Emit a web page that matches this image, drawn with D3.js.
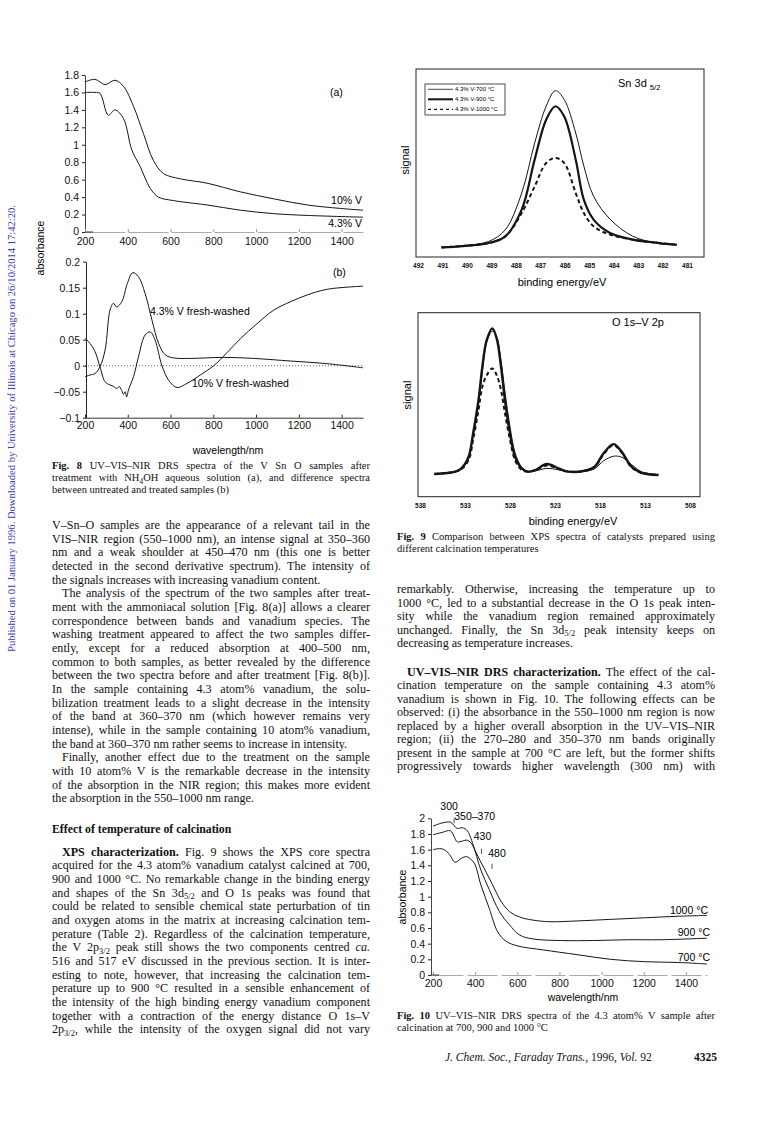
<!DOCTYPE html>
<html>
<head>
<meta charset="utf-8">
<script src="https://cdn.jsdelivr.net/npm/d3@7"></script>
<style>
body { margin: 0; background: #fff; }
svg { display: block; }
.serif { font-family: "Liberation Serif", "Times New Roman", serif; }
.sans { font-family: "Liberation Sans", Arial, sans-serif; }
</style>
</head>
<body>
<svg id="page" width="773" height="1131"></svg>
<script>
// ---- Fig. 8(a): absorbance after NH4OH treatment ----
var wl8aTen  = [200, 247, 294, 340, 380, 427, 473, 520, 567, 645, 770, 927, 1083, 1239, 1395, 1500];
var abs8aTen = [1.72, 1.75, 1.69, 1.74, 1.67, 1.44, 1.13, 0.82, 0.67, 0.61, 0.56, 0.46, 0.38, 0.31, 0.27, 0.25];
var wl8aLow  = [200, 247, 270, 309, 340, 380, 419, 458, 505, 544, 614, 770, 927, 1083, 1239, 1500];
var abs8aLow = [1.60, 1.60, 1.59, 1.34, 1.40, 1.30, 0.94, 0.75, 0.50, 0.40, 0.36, 0.31, 0.25, 0.21, 0.19, 0.17];

// ---- Fig. 8(b): difference spectra (fresh - washed) ----
var wl8bLow = [200, 223, 247, 270, 294, 317, 333, 348, 372, 398, 423, 450, 481, 513, 544, 575, 614, 692, 848, 989, 1161, 1317, 1500];
var d8bLow  = [-0.021, -0.018, -0.015, -0.002, 0.030, 0.107, 0.120, 0.113, 0.123, 0.158, 0.179, 0.171, 0.139, 0.088, 0.043, 0.021, 0.015, 0.014, 0.016, 0.014, 0.009, 0.0045, -0.004];
var wl8bTen = [200, 223, 247, 270, 294, 317, 335, 348, 360, 372, 380, 388, 395, 403, 427, 450, 481, 505, 528, 559, 591, 630, 677, 739, 802, 864, 927, 1005, 1083, 1161, 1239, 1333, 1500];
var d8bTen  = [0.053, 0.043, 0.027, -0.002, -0.031, -0.037, -0.040, -0.044, -0.040, -0.048, -0.055, -0.050, -0.060, -0.047, -0.021, 0.017, 0.059, 0.065, 0.049, 0.001, -0.028, -0.042, -0.034, -0.018, 0.000, 0.025, 0.052, 0.081, 0.107, 0.123, 0.136, 0.147, 0.153];

var fig8Ticks  = [200, 400, 600, 800, 1000, 1200, 1400];
var fig8aYTicks = [0, 0.2, 0.4, 0.6, 0.8, 1, 1.2, 1.4, 1.6, 1.8];
var fig8bYTicks = [-0.1, -0.05, 0, 0.05, 0.1, 0.15, 0.2];

// ---- Fig. 9: XPS spectra ----
var evSn   = [491.04, 490.17, 489.10, 488.43, 487.76, 487.23, 486.76, 486.38, 486.02, 485.55, 485.22, 484.82, 484.15, 483.22, 482.14, 481.41];
var sn700  = [6.1, 7.0, 9.3, 15.4, 34.7, 61.0, 80.4, 88.6, 83.9, 66.3, 49.0, 33.0, 21.0, 12.0, 8.1, 7.5];
var sn900  = [6.1, 6.8, 8.4, 11.9, 26.0, 52.3, 73.3, 80.4, 75.0, 52.3, 31.2, 20.7, 13.7, 10.2, 8.4, 7.5];
var sn1000 = [6.1, 6.8, 8.4, 11.9, 24.2, 38.2, 50.5, 53.2, 50.5, 34.7, 24.2, 17.2, 12.8, 10.2, 8.4, 7.5];
var snTicks = [492, 491, 490, 489, 488, 487, 486, 485, 484, 483, 482, 481];

var evO   = [536.4, 534.1, 533.4, 532.6, 532.1, 531.5, 531.07, 530.59, 529.96, 529.48, 529.0, 528.56, 528.0, 527.44, 526.7, 526.0, 525.2, 523.9, 522.6, 521.5, 519.7, 518.6, 517.6, 516.5, 515.6, 514.5, 513.4, 511.5];
var o700  = [12.3, 13.4, 15.0, 20.5, 33.0, 50.0, 68.0, 84.0, 90.0, 87.0, 74.0, 57.0, 38.0, 24.0, 16.0, 13.8, 14.0, 15.4, 14.6, 13.5, 13.8, 15.2, 19.5, 22.0, 21.5, 17.5, 13.6, 12.0];
var o900  = [12.3, 13.6, 15.4, 21.7, 34.4, 52.5, 70.7, 85.1, 91.5, 86.0, 70.7, 52.5, 34.4, 21.7, 15.4, 13.6, 14.5, 17.8, 15.4, 13.6, 14.1, 16.3, 23.6, 28.6, 24.5, 16.3, 13.0, 11.8];
var o1000 = [12.3, 13.6, 15.0, 19.9, 30.8, 47.0, 59.8, 66.0, 69.7, 66.0, 58.0, 45.3, 30.8, 19.9, 14.5, 13.6, 14.3, 17.0, 15.0, 13.6, 14.1, 16.0, 23.0, 28.0, 24.0, 16.0, 13.0, 11.8];
var oTicks = [538, 533, 528, 523, 518, 513, 508];

var legend9 = ['4.3% V-700 °C', '4.3% V-900 °C', '4.3% V-1000 °C'];

// ---- Fig. 10: calcination temperature ----
var wl1000 = [200, 243, 283, 315, 339, 363, 403, 443, 483, 523, 563, 611, 675, 755, 883, 1043, 1203, 1363, 1500];
var a1000  = [1.90, 1.94, 1.95, 1.87, 1.88, 1.84, 1.57, 1.36, 1.15, 0.94, 0.81, 0.74, 0.70, 0.68, 0.69, 0.71, 0.73, 0.75, 0.76];
var wl900  = [200, 243, 283, 315, 339, 363, 387, 427, 467, 515, 563, 611, 675, 803, 963, 1123, 1283, 1500];
var a900   = [1.79, 1.82, 1.84, 1.70, 1.71, 1.72, 1.66, 1.34, 1.09, 0.81, 0.64, 0.51, 0.46, 0.44, 0.44, 0.45, 0.45, 0.47];
var wl700  = [200, 243, 275, 305, 335, 360, 395, 427, 467, 507, 547, 603, 723, 883, 1043, 1203, 1363, 1500];
var a700   = [1.60, 1.61, 1.55, 1.44, 1.49, 1.51, 1.43, 1.15, 0.85, 0.55, 0.43, 0.37, 0.32, 0.26, 0.20, 0.17, 0.16, 0.14];
var fig10YTicks = [0, 0.2, 0.4, 0.6, 0.8, 1, 1.2, 1.4, 1.6, 1.8, 2];
var bandNm     = [300, 360, 430, 480];
var bandLabels = ['300', '350–370', '430', '480'];
var bandAbs    = [2.0, 1.97, 1.61, 1.42];

// ---- page text ----
var leftText = [
	'V–Sn–O samples are the appearance of a relevant tail in the',
	'VIS–NIR region (550–1000 nm), an intense signal at 350–360',
	'nm and a weak shoulder at 450–470 nm (this one is better',
	'detected in the second derivative spectrum). The intensity of',
	'the signals increases with increasing vanadium content.|',
	'>The analysis of the spectrum of the two samples after treat-',
	'ment with the ammoniacal solution [Fig. 8(a)] allows a clearer',
	'correspondence between bands and vanadium species. The',
	'washing treatment appeared to affect the two samples differ-',
	'ently, except for a reduced absorption at 400–500 nm,',
	'common to both samples, as better revealed by the difference',
	'between the two spectra before and after treatment [Fig. 8(b)].',
	'In the sample containing 4.3 atom% vanadium, the solu-',
	'bilization treatment leads to a slight decrease in the intensity',
	'of the band at 360–370 nm (which however remains very',
	'intense), while in the sample containing 10 atom% vanadium,',
	'the band at 360–370 nm rather seems to increase in intensity.|',
	'>Finally, another effect due to the treatment on the sample',
	'with 10 atom% V is the remarkable decrease in the intensity',
	'of the absorption in the NIR region; this makes more evident',
	'the absorption in the 550–1000 nm range.|'
];
var leftText2 = [
	'>**XPS characterization.** Fig. 9 shows the XPS core spectra',
	'acquired for the 4.3 atom% vanadium catalyst calcined at 700,',
	'900 and 1000 °C. No remarkable change in the binding energy',
	'and shapes of the Sn 3d^5/2^ and O 1s peaks was found that',
	'could be related to sensible chemical state perturbation of tin',
	'and oxygen atoms in the matrix at increasing calcination tem-',
	'perature (Table 2). Regardless of the calcination temperature,',
	'the V 2p^3/2^ peak still shows the two components centred _ca._',
	'516 and 517 eV discussed in the previous section. It is inter-',
	'esting to note, however, that increasing the calcination tem-',
	'perature up to 900 °C resulted in a sensible enhancement of',
	'the intensity of the high binding energy vanadium component',
	'together with a contraction of the energy distance O 1s–V',
	'2p^3/2^, while the intensity of the oxygen signal did not vary'
];
var rightText = [
	'remarkably. Otherwise, increasing the temperature up to',
	'1000 °C, led to a substantial decrease in the O 1s peak inten-',
	'sity while the vanadium region remained approximately',
	'unchanged. Finally, the Sn 3d^5/2^ peak intensity keeps on',
	'decreasing as temperature increases.|'
];
var rightText2 = [
	'>**UV–VIS–NIR DRS characterization.** The effect of the cal-',
	'cination temperature on the sample containing 4.3 atom%',
	'vanadium is shown in Fig. 10. The following effects can be',
	'observed: (i) the absorbance in the 550–1000 nm region is now',
	'replaced by a higher overall absorption in the UV–VIS–NIR',
	'region; (ii) the 270–280 and 350–370 nm bands originally',
	'present in the sample at 700 °C are left, but the former shifts',
	'progressively towards higher wavelength (300 nm) with'
];
var caption8 = [
	'**Fig. 8** UV–VIS–NIR DRS spectra of the V Sn O samples after',
	'treatment with NH^4^OH aqueous solution (a), and difference spectra',
	'between untreated and treated samples (b)|'
];
var caption9 = [
	'**Fig. 9** Comparison between XPS spectra of catalysts prepared using',
	'different calcination temperatures|'
];
var caption10 = [
	'**Fig. 10** UV–VIS–NIR DRS spectra of the 4.3 atom% V sample after',
	'calcination at 700, 900 and 1000 °C|'
];
var sideNote = 'Published on 01 January 1996. Downloaded by University of Illinois at Chicago on 26/10/2014 17:42:20.';

var svg = d3.select('#page');
svg.append('rect').attr('width', 773).attr('height', 1131).attr('fill', '#fff');

function zip(a, b) { return a.map(function(v, i) { return [v, b[i]]; }); }

function linePath(x, y) {
	return d3.line()
		.x(function(d) { return x(d[0]); })
		.y(function(d) { return y(d[1]); })
		.curve(d3.curveCatmullRom.alpha(0.5));
}

// small markup: **bold**, _italic_, ^subscript^
function rich(t, s) {
	var parts = s.split(/(\*\*[^*]+\*\*|_[^_]+_|\^[^\^]+\^)/).filter(function(p) { return p.length; });
	var shifted = false;
	parts.forEach(function(p) {
		var ts = t.append('tspan');
		if (shifted) { ts.attr('dy', -2.5); shifted = false; }
		if (p.indexOf('**') === 0) ts.attr('font-weight', 'bold').text(p.slice(2, -2));
		else if (p[0] === '_') ts.attr('font-style', 'italic').text(p.slice(1, -1));
		else if (p[0] === '^') { ts.attr('font-size', '70%').attr('dy', 2.5).text(p.slice(1, -1)); shifted = true; }
		else ts.text(p);
	});
}

function textBlock(g, lines, x0, x1, y0, dy, size, indent) {
	lines.forEach(function(raw, i) {
		var ind = raw[0] === '>';
		var last = raw[raw.length - 1] === '|';
		var s = raw.replace(/^>/, '').replace(/\|$/, '');
		var xs = x0 + (ind ? indent : 0);
		var t = g.append('text')
			.attr('x', xs)
			.attr('y', y0 + i * dy + size * 0.33)
			.attr('font-size', size);
		rich(t, s);
		if (!last) {
			var target = x1 - xs;
			var w = t.node().getComputedTextLength();
			var gaps = (s.match(/ /g) || []).length;
			if (gaps > 0 && w < target) {
				t.style('word-spacing', ((target - w) / gaps) + 'px');
				var w2 = t.node().getComputedTextLength();
				if (Math.abs(w2 - target) > 2) t.style('word-spacing', null).attr('textLength', target).attr('lengthAdjust', 'spacing');
			} else {
				t.attr('textLength', target).attr('lengthAdjust', 'spacing');
			}
		}
	});
}

function cleanAxis(g, size) {
	g.attr('font-family', null).attr('font-size', size);
	g.selectAll('line').attr('stroke', '#222');
	g.selectAll('text').attr('fill', '#111');
}

var ink = '#151515';
var fmt = d3.format('~g');
var fmtX = d3.format('d');

// ================= Fig. 8 =================
var x8 = d3.scaleLinear().domain([200, 1500]).range([85, 363]);
var y8a = d3.scaleLinear().domain([0, 1.8]).range([232, 75]);
var y8b = d3.scaleLinear().domain([-0.1, 0.2]).range([417.7, 261.7]);

var f8 = svg.append('g').attr('class', 'sans');

var ax = f8.append('g').attr('transform', 'translate(85,0)')
	.call(d3.axisLeft(y8a).tickValues(fig8aYTicks).tickSizeInner(3).tickSizeOuter(0).tickPadding(3).tickFormat(fmt));
cleanAxis(ax, 10.5);
ax.select('.domain').attr('stroke', '#444');
ax.selectAll('.tick text').filter(function(d) { return d === 0; }).attr('dy', '0.2em');
ax = f8.append('g').attr('transform', 'translate(0,232)')
	.call(d3.axisBottom(x8).tickValues(fig8Ticks).tickSizeInner(-3).tickSizeOuter(0).tickPadding(5.5).tickFormat(fmtX));
cleanAxis(ax, 10.5);
ax.select('.domain').attr('stroke', '#aaa').attr('stroke-dasharray', '40,3');
ax.selectAll('line').attr('stroke', '#999');
f8.append('line').attr('x1', 85).attr('x2', 93).attr('y1', 232).attr('y2', 232).attr('stroke', '#333');

f8.append('path').datum(zip(wl8aTen, abs8aTen)).attr('d', linePath(x8, y8a))
	.attr('fill', 'none').attr('stroke', ink).attr('stroke-width', 1);
f8.append('path').datum(zip(wl8aLow, abs8aLow)).attr('d', linePath(x8, y8a))
	.attr('fill', 'none').attr('stroke', ink).attr('stroke-width', 1);

f8.append('text').attr('x', 330).attr('y', 96).attr('font-size', 10.5).text('(a)');
f8.append('text').attr('x', 362).attr('y', 204).attr('font-size', 10.5).attr('text-anchor', 'end').text('10% V');
f8.append('text').attr('x', 362).attr('y', 227).attr('font-size', 10.5).attr('text-anchor', 'end').text('4.3% V');

ax = f8.append('g').attr('transform', 'translate(86,0)')
	.call(d3.axisLeft(y8b).tickValues(fig8bYTicks).tickSizeInner(3).tickSizeOuter(0).tickPadding(3).tickFormat(fmt));
cleanAxis(ax, 10.5);
ax.select('.domain').attr('stroke', '#222');
ax = f8.append('g').attr('transform', 'translate(0,417.7)')
	.call(d3.axisBottom(x8).tickValues(fig8Ticks).tickSizeInner(-3).tickSizeOuter(0).tickPadding(3.5).tickFormat(fmtX));
cleanAxis(ax, 10.5);
ax.select('.domain').attr('stroke', '#333');

f8.append('line').attr('x1', x8(200)).attr('x2', x8(1500)).attr('y1', y8b(0)).attr('y2', y8b(0))
	.attr('stroke', '#444').attr('stroke-width', 0.8).attr('stroke-dasharray', '1,2');

f8.append('path').datum(zip(wl8bLow, d8bLow)).attr('d', linePath(x8, y8b))
	.attr('fill', 'none').attr('stroke', ink).attr('stroke-width', 1);
f8.append('path').datum(zip(wl8bTen, d8bTen)).attr('d', linePath(x8, y8b))
	.attr('fill', 'none').attr('stroke', ink).attr('stroke-width', 1);

f8.append('text').attr('x', 333).attr('y', 276).attr('font-size', 10.5).text('(b)');
f8.append('text').attr('x', 150).attr('y', 315).attr('font-size', 10.5).text('4.3% V fresh-washed');
f8.append('text').attr('x', 192).attr('y', 387).attr('font-size', 10.5).text('10% V fresh-washed');

f8.append('text').attr('transform', 'translate(44,248) rotate(-90)').attr('text-anchor', 'middle')
	.attr('font-size', 10.5).text('absorbance');
f8.append('text').attr('x', 228).attr('y', 454).attr('text-anchor', 'middle').attr('font-size', 10.5).text('wavelength/nm');

// ================= Fig. 9 (top: Sn 3d) =================
var x9a = d3.scaleLinear().domain([492, 481]).range([418, 687]);
var y9a = d3.scaleLinear().domain([0, 100]).range([259, 69]);
var f9 = svg.append('g').attr('class', 'sans');

f9.append('rect').attr('x', 416).attr('y', 69).attr('width', 288).attr('height', 188)
	.attr('fill', 'none').attr('stroke', '#222').attr('stroke-width', 1);
ax = f9.append('g').attr('transform', 'translate(0,257)')
	.call(d3.axisBottom(x9a).tickValues(snTicks).tickSize(0).tickPadding(6));
cleanAxis(ax, 6.5);
ax.select('.domain').remove();
ax.selectAll('text').attr('font-weight', 'bold');

f9.append('path').datum(zip(evSn, sn700)).attr('d', linePath(x9a, y9a))
	.attr('fill', 'none').attr('stroke', ink).attr('stroke-width', 1);
f9.append('path').datum(zip(evSn, sn900)).attr('d', linePath(x9a, y9a))
	.attr('fill', 'none').attr('stroke', ink).attr('stroke-width', 2.2);
f9.append('path').datum(zip(evSn, sn1000)).attr('d', linePath(x9a, y9a))
	.attr('fill', 'none').attr('stroke', ink).attr('stroke-width', 2).attr('stroke-dasharray', '4,3');

var lg = f9.append('g');
lg.append('rect').attr('x', 425).attr('y', 84).attr('width', 80).attr('height', 31)
	.attr('fill', '#fff').attr('stroke', '#222').attr('stroke-width', 0.8);
legend9.forEach(function(name, i) {
	var yy = 89.3 + i * 10;
	var l = lg.append('line').attr('x1', 428).attr('x2', 453).attr('y1', yy).attr('y2', yy).attr('stroke', ink);
	if (i === 0) l.attr('stroke-width', 0.8);
	if (i === 1) l.attr('stroke-width', 2);
	if (i === 2) l.attr('stroke-width', 1.3).attr('stroke-dasharray', '3,3');
	lg.append('text').attr('x', 455).attr('y', yy + 2).attr('font-size', 6).text(name);
});

var st = f9.append('text').attr('x', 618).attr('y', 87).attr('font-size', 11);
rich(st, 'Sn 3d ^5/2^');
f9.append('text').attr('transform', 'translate(409,160) rotate(-90)').attr('text-anchor', 'middle')
	.attr('font-size', 11).text('signal');
f9.append('text').attr('x', 562).attr('y', 286).attr('text-anchor', 'middle').attr('font-size', 11).text('binding energy/eV');

// ================= Fig. 9 (bottom: O 1s - V 2p) =================
var x9b = d3.scaleLinear().domain([538, 508]).range([420, 690]);
var y9b = d3.scaleLinear().domain([0, 100]).range([496.7, 312.7]);

f9.append('rect').attr('x', 418).attr('y', 312.7).attr('width', 282).attr('height', 184)
	.attr('fill', 'none').attr('stroke', '#222').attr('stroke-width', 1);
ax = f9.append('g').attr('transform', 'translate(0,496.7)')
	.call(d3.axisBottom(x9b).tickValues(oTicks).tickSize(0).tickPadding(7));
cleanAxis(ax, 6.5);
ax.select('.domain').remove();
ax.selectAll('text').attr('font-weight', 'bold');

f9.append('path').datum(zip(evO, o700)).attr('d', linePath(x9b, y9b))
	.attr('fill', 'none').attr('stroke', ink).attr('stroke-width', 1);
f9.append('path').datum(zip(evO, o900)).attr('d', linePath(x9b, y9b))
	.attr('fill', 'none').attr('stroke', ink).attr('stroke-width', 2.4);
f9.append('path').datum(zip(evO, o1000)).attr('d', linePath(x9b, y9b))
	.attr('fill', 'none').attr('stroke', ink).attr('stroke-width', 2).attr('stroke-dasharray', '4,3');

f9.append('text').attr('x', 612).attr('y', 326).attr('font-size', 11).text('O 1s–V 2p');
f9.append('text').attr('transform', 'translate(411,395) rotate(-90)').attr('text-anchor', 'middle')
	.attr('font-size', 11).text('signal');
f9.append('text').attr('x', 573).attr('y', 525).attr('text-anchor', 'middle').attr('font-size', 11).text('binding energy/eV');

// ================= Fig. 10 =================
var x10 = d3.scaleLinear().domain([200, 1500]).range([433, 707]);
var y10 = d3.scaleLinear().domain([0, 2]).range([975, 818.3]);
var f10 = svg.append('g').attr('class', 'sans');

ax = f10.append('g').attr('transform', 'translate(431,0)')
	.call(d3.axisLeft(y10).tickValues(fig10YTicks).tickSizeInner(3).tickSizeOuter(0).tickPadding(3).tickFormat(fmt));
cleanAxis(ax, 10.5);
ax.select('.domain').attr('stroke', '#444');
ax = f10.append('g').attr('transform', 'translate(0,975)')
	.call(d3.axisBottom(x10).tickValues(fig8Ticks).tickSizeInner(-3).tickSizeOuter(0).tickPadding(5).tickFormat(fmtX));
cleanAxis(ax, 10.5);
ax.select('.domain').attr('stroke', '#aaa').attr('stroke-dasharray', '30,4');
ax.selectAll('line').attr('stroke', '#999');
f10.append('line').attr('x1', 431).attr('x2', 439).attr('y1', 975).attr('y2', 975).attr('stroke', '#333');

[[wl1000, a1000], [wl900, a900], [wl700, a700]].forEach(function(s) {
	f10.append('path').datum(zip(s[0], s[1])).attr('d', linePath(x10, y10))
		.attr('fill', 'none').attr('stroke', ink).attr('stroke-width', 1);
});

// band markers
var bandDx = [-5, 8, 1, 5];
var bandDy = [-8, -1, -9, -7];
bandNm.forEach(function(nm, i) {
	var bx = x10(nm), by = y10(bandAbs[i]);
	if (i !== 1) f10.append('line').attr('x1', bx).attr('x2', bx).attr('y1', by).attr('y2', by + 5)
		.attr('stroke', '#222').attr('stroke-width', 0.8);
	f10.append('text').attr('x', bx + bandDx[i]).attr('y', by + bandDy[i]).attr('text-anchor', 'middle')
		.attr('font-size', 10.5).text(bandLabels[i]);
});

f10.append('text').attr('x', 708).attr('y', 914).attr('text-anchor', 'end').attr('font-size', 10.5).text('1000 °C');
f10.append('text').attr('x', 710).attr('y', 936).attr('text-anchor', 'end').attr('font-size', 10.5).text('900 °C');
f10.append('text').attr('x', 710).attr('y', 961).attr('text-anchor', 'end').attr('font-size', 10.5).text('700 °C');
f10.append('text').attr('transform', 'translate(406,897) rotate(-90)').attr('text-anchor', 'middle')
	.attr('font-size', 10.5).text('absorbance');
f10.append('text').attr('x', 583).attr('y', 1001).attr('text-anchor', 'middle').attr('font-size', 10.5).text('wavelength/nm');

// ================= text =================
var tx = svg.append('g').attr('class', 'serif').attr('fill', '#111');
textBlock(tx, caption8, 52, 370, 466, 12, 10.5, 0);
textBlock(tx, caption9, 397, 715, 537, 11.8, 10.5, 0);
textBlock(tx, caption10, 397, 715, 1016, 11.8, 10.5, 0);

textBlock(tx, leftText, 52, 370, 525, 13.67, 12.1, 10);
tx.append('text').attr('x', 52).attr('y', 833).attr('font-size', 11.8).attr('font-weight', 'bold')
	.text('Effect of temperature of calcination');
textBlock(tx, leftText2, 52, 370, 851.7, 13.67, 12.1, 10);
textBlock(tx, rightText, 397, 715, 589.3, 13.5, 12.1, 10);
textBlock(tx, rightText2, 397, 715, 671.7, 13.5, 12.1, 10);

var ft = tx.append('text').attr('x', 445).attr('y', 1061).attr('font-size', 11.5);
rich(ft, '_J. Chem. Soc., Faraday Trans.,_ 1996, _Vol._ 92');
tx.append('text').attr('x', 717).attr('y', 1061).attr('text-anchor', 'end').attr('font-size', 11.5)
	.attr('font-weight', 'bold').text('4325');

tx.append('text').attr('transform', 'translate(15,428.5) rotate(-90)').attr('text-anchor', 'middle')
	.attr('font-size', 10).attr('fill', '#3a3ab8').attr('textLength', 447).attr('lengthAdjust', 'spacingAndGlyphs')
	.text(sideNote);
</script>
</body>
</html>
